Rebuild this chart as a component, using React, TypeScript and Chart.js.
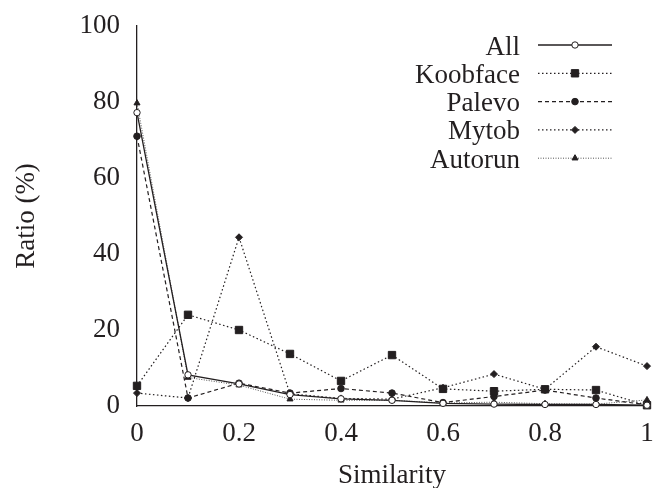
import React, { useEffect, useRef } from "react";
import { Chart, registerables } from "chart.js";

Chart.register(...registerables);

const similarity = [0, 0.1, 0.2, 0.3, 0.4, 0.5, 0.6, 0.7, 0.8, 0.9, 1.0];
const xTickLabels = ["0", "0.2", "0.4", "0.6", "0.8", "1"];
const seriesNames = ["All", "Koobface", "Palevo", "Mytob", "Autorun"];
const allValues = [77.2, 8.2, 5.8, 3.0, 1.9, 1.5, 0.7, 0.5, 0.4, 0.4, 0.2];
const koobfaceValues = [5.3, 24.0, 20.0, 13.7, 6.6, 13.4, 4.5, 3.9, 4.4, 4.2, 0.2];
const palevoValues = [71.0, 2.1, 6.0, 3.4, 4.6, 3.4, 0.9, 2.5, 4.2, 2.1, 0.3];
const mytobValues = [3.4, 2.1, 44.4, 3.2, 2.0, 1.8, 4.8, 8.4, 4.4, 15.6, 10.5];
const autorunValues = [79.7, 7.5, 5.5, 1.8, 1.5, 1.5, 0.8, 1.0, 0.6, 0.5, 1.6];

const INK = "#231f20";
const FONT = "'Liberation Serif', 'DejaVu Serif', serif";
const FS = 27;

type Style = {
  dash: number[];
  width: number;
  point: string;
  radius: number;
  fill: string;
  color: string;
};

const styles: Style[] = [
  { dash: [], width: 1.3, point: "circle", radius: 3.2, fill: "#ffffff", color: INK },
  { dash: [1.5, 2.5], width: 1.2, point: "rect", radius: 5.2, fill: INK, color: INK },
  { dash: [4, 3], width: 1.2, point: "circle", radius: 3.3, fill: INK, color: INK },
  { dash: [1.5, 2.5], width: 1.2, point: "rectRot", radius: 3.5, fill: INK, color: INK },
  { dash: [1, 1.5], width: 1, point: "triangle", radius: 3.5, fill: INK, color: "#555" },
];

function drawMarker(ctx: CanvasRenderingContext2D, s: Style, x: number, y: number) {
  ctx.save();
  ctx.setLineDash([]);
  ctx.fillStyle = s.fill;
  ctx.strokeStyle = INK;
  ctx.lineWidth = 1;
  ctx.beginPath();
  const r = s.radius;
  if (s.point === "circle") {
    ctx.arc(x, y, r, 0, Math.PI * 2);
  } else if (s.point === "rect") {
    const h = r * Math.SQRT1_2;
    ctx.rect(x - h, y - h, 2 * h, 2 * h);
  } else if (s.point === "rectRot") {
    ctx.moveTo(x, y - r);
    ctx.lineTo(x + r, y);
    ctx.lineTo(x, y + r);
    ctx.lineTo(x - r, y);
    ctx.closePath();
  } else if (s.point === "triangle") {
    const h = r * 1.5;
    ctx.moveTo(x, y - r);
    ctx.lineTo(x + h * 0.577, y + r * 0.5);
    ctx.lineTo(x - h * 0.577, y + r * 0.5);
    ctx.closePath();
  }
  ctx.fill();
  ctx.stroke();
  ctx.restore();
}

const legendPlugin = {
  id: "customLegend",
  afterDraw(chart: any) {
    const ctx = chart.ctx as CanvasRenderingContext2D;
    ctx.save();
    ctx.font = `${FS}px ${FONT}`;
    ctx.fillStyle = INK;
    ctx.textAlign = "right";
    ctx.textBaseline = "alphabetic";
    seriesNames.forEach((name, i) => {
      const s = styles[i];
      const cy = 45 + i * 28.3;
      ctx.fillText(name, 520, cy + 9.5);
      ctx.save();
      ctx.strokeStyle = s.color;
      ctx.lineWidth = s.width;
      ctx.setLineDash(s.dash);
      ctx.beginPath();
      ctx.moveTo(538, cy);
      ctx.lineTo(612, cy);
      ctx.stroke();
      ctx.restore();
      drawMarker(ctx, s, 575, cy);
    });
    ctx.restore();
  },
};

const seriesValues = [allValues, koobfaceValues, palevoValues, mytobValues, autorunValues];

export default function App() {
  const ref = useRef<HTMLCanvasElement>(null);
  useEffect(() => {
    document.body.style.margin = "0";
    const datasets = seriesNames.map((name, i) => {
      const s = styles[i];
      return {
        label: name,
        data: similarity.map((x, j) => ({ x, y: seriesValues[i][j] })),
        borderColor: s.color,
        borderWidth: s.width,
        borderDash: s.dash,
        pointStyle: s.point,
        pointRadius: s.radius,
        pointBackgroundColor: s.fill,
        pointBorderColor: INK,
        pointBorderWidth: 1,
        tension: 0,
        fill: false,
        clip: false as any,
      };
    });
    const chart = new Chart(ref.current!, {
      type: "line",
      data: { datasets: datasets as any },
      options: {
        animation: false,
        responsive: false,
        layout: { padding: { top: 26, right: 7, left: 0, bottom: 0 } },
        plugins: { legend: { display: false }, tooltip: { enabled: false } },
        scales: {
          x: {
            type: "linear",
            min: 0,
            max: 1,
            afterFit: (scale: any) => {
              scale.height = 82;
              scale.paddingLeft = 0;
              scale.paddingRight = 0;
            },
            afterBuildTicks: (scale: any) => {
              scale.ticks = xTickLabels.map((l) => ({ value: parseFloat(l), label: l }));
            },
            ticks: {
              font: { family: FONT, size: FS },
              color: INK,
              padding: 12,
              maxRotation: 0,
              autoSkip: false,
              callback: (v: any) => {
                const idx = xTickLabels.findIndex((l) => Math.abs(parseFloat(l) - v) < 1e-6);
                return idx >= 0 ? xTickLabels[idx] : "";
              },
            },
            grid: { display: true, drawOnChartArea: false, drawTicks: false },
            border: { display: true, color: INK, width: 1.3 },
            title: {
              display: true,
              text: "Similarity",
              font: { family: FONT, size: FS },
              color: INK,
              padding: { top: 0, bottom: -4 },
            },
          },
          y: {
            min: 0,
            max: 100,
            afterFit: (scale: any) => {
              scale.width = 137;
              scale.paddingTop = 0;
              scale.paddingBottom = 0;
            },
            ticks: {
              stepSize: 20,
              font: { family: FONT, size: FS },
              color: INK,
              padding: 17,
            },
            grid: { display: true, drawOnChartArea: false, drawTicks: false },
            border: { display: true, color: INK, width: 1.3 },
            title: {
              display: true,
              text: "Ratio (%)",
              font: { family: FONT, size: FS },
              color: INK,
              padding: { top: 11, bottom: 0 },
            },
          },
        },
      },
      plugins: [legendPlugin],
    });
    return () => chart.destroy();
  }, []);
  return (
    <div style={{ width: 654, height: 488 }}>
      <canvas ref={ref} width={654} height={488} />
    </div>
  );
}
